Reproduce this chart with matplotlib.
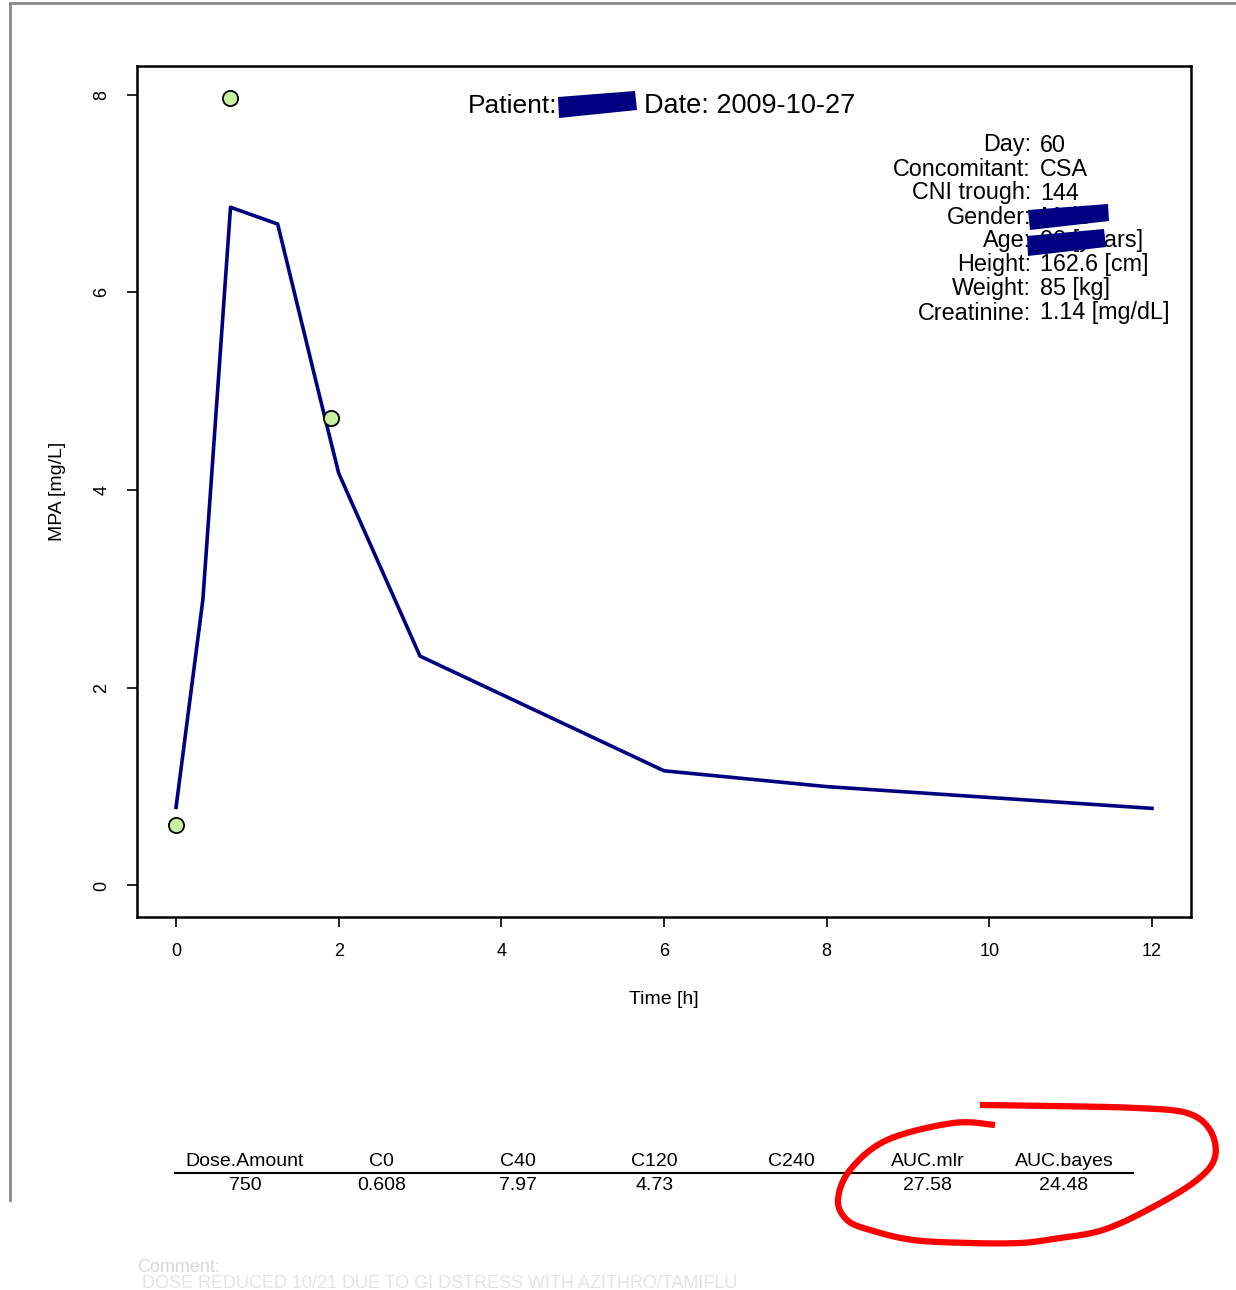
import matplotlib
matplotlib.use("Agg")
import numpy as np
import matplotlib.pyplot as plt
from matplotlib.patches import Polygon

plt.rcParams['font.family'] = ['Liberation Sans', 'DejaVu Sans']

# predicted concentration curve
time_pred = [0, 0.33, 0.67, 1.25, 1.75, 2.0, 3.0, 6.0, 8.0, 12.0]
conc_pred = [0.79, 2.89, 6.86, 6.69, 5.0, 4.17, 2.32, 1.16, 1.0, 0.78]

# observed samples
time_obs = [0.0, 0.667, 1.9]
conc_obs = [0.608, 7.97, 4.73]

info_labels = ["Day:", "Concomitant:", "CNI trough:", "Gender:", "Age:",
               "Height:", "Weight:", "Creatinine:"]
info_values = ["60", "CSA", "144", "Male", "00 [years]",
               "162.6 [cm]", "85 [kg]", "1.14 [mg/dL]"]

table_cols = ["Dose.Amount", "C0", "C40", "C120", "C240", "AUC.mlr", "AUC.bayes"]
table_vals = ["750", "0.608", "7.97", "4.73", "", "27.58", "24.48"]

W, H = 1236, 1290
fig = plt.figure(figsize=(W / 100, H / 100), dpi=100)
fig.patch.set_facecolor('white')

# main plot area in pixel box
l, r, t, b = 137, 1191, 66, 917
ax = fig.add_axes([l / W, 1 - b / H, (r - l) / W, (b - t) / H])
ax.plot(time_pred, conc_pred, color='#000080', lw=2.6, zorder=2)
ax.scatter(time_obs, conc_obs, s=120, facecolor='#c8f0a0', edgecolor='black',
           lw=1.3, zorder=3)

ymax = max(conc_obs)
ax.set_xlim(-0.04 * 12, 12 + 0.04 * 12)
ax.set_ylim(-0.04 * ymax, ymax * 1.04)
ax.set_xticks(range(0, 13, 2))
ax.set_yticks(range(0, 9, 2))
ax.tick_params(length=7, width=1.2, labelsize=13, pad=12)
for lab in ax.get_yticklabels():
    lab.set_rotation(90)
    lab.set_va('center')
for s in ax.spines.values():
    s.set_linewidth(1.8)
ax.set_xlabel("Time [h]", fontsize=14, labelpad=22)
ax.set_ylabel("MPA [mg/L]", fontsize=14, labelpad=20)

# overlay in pixel coordinates for text, table and marks
ov = fig.add_axes([0, 0, 1, 1], zorder=5)
ov.set_xlim(0, W)
ov.set_ylim(H, 0)
ov.axis('off')
ov.patch.set_alpha(0)

# page frame
ov.plot([10, W], [3, 3], color='#888888', lw=2)
ov.plot([10, 10], [3, 1200], color='#888888', lw=2)

# title
ov.text(557, 106, "Patient:", ha='right', va='center', fontsize=19)
ov.text(644, 106, "Date: 2009-10-27", ha='left', va='center', fontsize=19.5)

for i, (lab, val) in enumerate(zip(info_labels, info_values)):
    y = 145 + 24 * i
    ov.text(1031, y, lab, ha='right', va='center', fontsize=16.8)
    ov.text(1040, y, val, ha='left', va='center', fontsize=16.8)

# redaction boxes
boxes = [
    [(558, 97), (635, 91), (637, 110), (559, 118)],
    [(1028, 210), (1108, 204), (1109, 221), (1030, 230)],
    [(1027, 236), (1104, 229), (1106, 247), (1028, 256)],
]
for pts in boxes:
    ov.add_patch(Polygon(pts, closed=True, facecolor='#000080', edgecolor='none', zorder=6))

# summary table
xs = [245 + 136.5 * i for i in range(len(table_cols))]
ov.plot([175, 1133], [1173, 1173], color='black', lw=1.5)
for x, c, v in zip(xs, table_cols, table_vals):
    ov.text(x, 1162, c, ha='center', va='center', fontsize=14)
    ov.text(x, 1185, v, ha='center', va='center', fontsize=14)

# comment
ov.text(137, 1267, "Comment:", ha='left', va='center', fontsize=13, color='#d8d8d8')
ov.text(142, 1284, "DOSE REDUCED 10/21 DUE TO GI DSTRESS WITH AZITHRO/TAMIFLU",
        ha='left', va='center', fontsize=13, color='#e4e4e4')

# hand drawn red loop (smoothed guide points)
loop_x = [995, 953, 887, 850, 838, 847, 870, 913, 970, 1020, 1053, 1103,
          1153, 1197, 1215, 1210, 1187, 1137, 1053, 980]
loop_y = [1125, 1123, 1140, 1170, 1200, 1220, 1230, 1240, 1243, 1243, 1239,
          1230, 1207, 1180, 1157, 1130, 1113, 1108, 1106, 1105]
P = np.column_stack([loop_x, loop_y]).astype(float)
P = np.vstack([P[0], P, P[-1]])
seg = []
for k in range(1, len(P) - 2):
    p0, p1, p2, p3 = P[k - 1], P[k], P[k + 1], P[k + 2]
    for s in np.linspace(0, 1, 12, endpoint=False):
        seg.append(0.5 * (2 * p1 + (-p0 + p2) * s + (2 * p0 - 5 * p1 + 4 * p2 - p3) * s ** 2
                          + (-p0 + 3 * p1 - 3 * p2 + p3) * s ** 3))
seg.append(P[-2])
seg = np.array(seg)
ov.plot(seg[:, 0], seg[:, 1], color='red', lw=4.5, solid_capstyle='butt',
        solid_joinstyle='round', zorder=7)

fig.savefig('out.png', dpi=100)
